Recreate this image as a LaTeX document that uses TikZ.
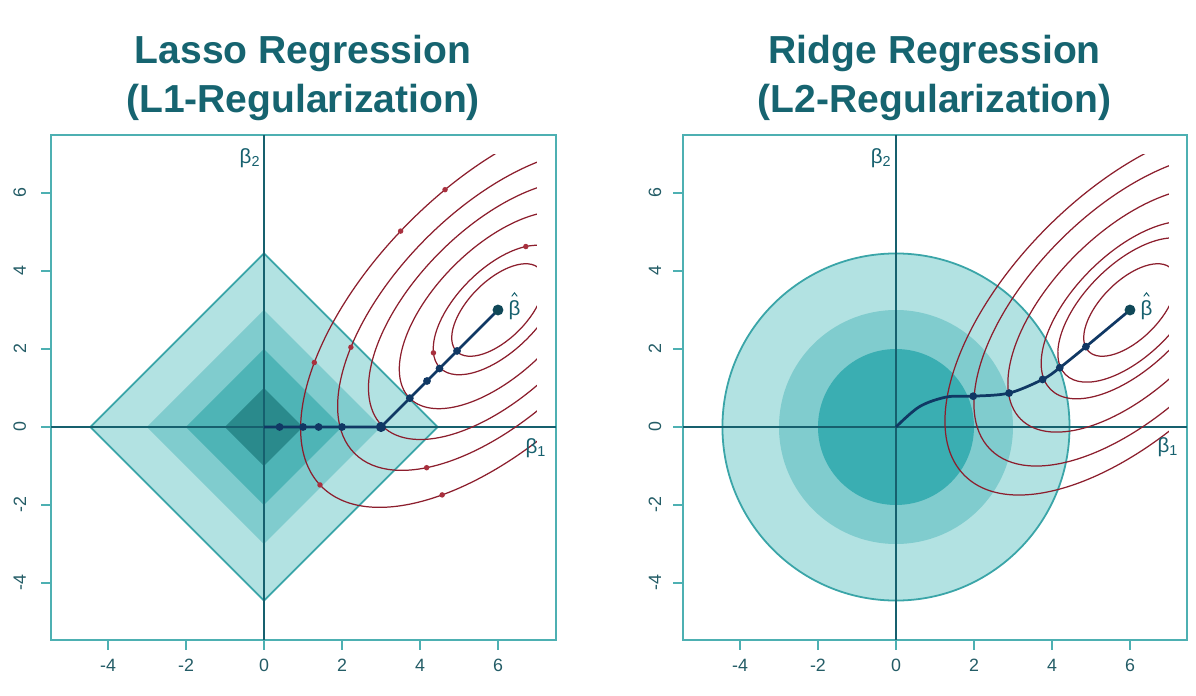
\documentclass[tikz,border=0pt]{standalone}
\usepackage{fontspec}
\setmainfont{Liberation Sans}
\usetikzlibrary{positioning}

\definecolor{titleclr}{RGB}{22,100,112}
\definecolor{tickclr}{RGB}{35,92,102}
\definecolor{frameclr}{RGB}{77,176,178}
\definecolor{axisclr}{RGB}{22,96,110}
\definecolor{regA}{RGB}{178,226,226}
\definecolor{regB}{RGB}{128,204,206}
\definecolor{regC}{RGB}{78,180,182}
\definecolor{regD}{RGB}{42,138,140}
\definecolor{circC}{RGB}{58,174,178}
\definecolor{regborder}{RGB}{58,165,168}
\definecolor{contclr}{RGB}{140,30,45}
\definecolor{rdotclr}{RGB}{168,48,62}
\definecolor{pathclr}{RGB}{16,56,100}
\definecolor{hatclr}{RGB}{16,72,88}

\begin{document}
\begin{tikzpicture}[x=1cm, y=1cm,
    every node/.style={font=\fontsize{13}{15}\selectfont, text=tickclr},
    title/.style={font=\fontsize{28.5}{34}\bfseries, text=titleclr, anchor=base},
    frame/.style={draw=frameclr, line width=1.4pt},
    axis/.style={draw=axisclr, line width=1.1pt},
    tick/.style={draw=frameclr, line width=1.2pt},
    contour/.style={draw=contclr, line width=0.9pt},
    reddot/.style={circle, fill=rdotclr, inner sep=0pt, minimum size=1.4mm},
    bdot/.style={circle, fill=pathclr, inner sep=0pt, minimum size=2mm},
    bigdot/.style={circle, fill=pathclr, inner sep=0pt, minimum size=2.6mm},
    hatdot/.style={circle, fill=hatclr, inner sep=0pt, minimum size=2.8mm},
    coefpath/.style={draw=pathclr, line width=2pt, line join=round},
    hatmark/.style={draw=axisclr, line width=0.7pt, line join=miter},
    axlabel/.style={font=\fontsize{15}{17}\selectfont, text=axisclr}]
  \useasboundingbox[fill=white] (0,0) rectangle (30.667,17.846);

  % titles
  \node[title] (ltitleA) at (7.77,16.23) {Lasso Regression};
  \node[title] (ltitleB) at (7.77,14.95) {(L1-Regularization)};
  \node[title] (rtitleA) at (23.97,16.23) {Ridge Regression};
  \node[title] (rtitleB) at (23.97,14.95) {(L2-Regularization)};

  % ---- Lasso panel ----
  \begin{scope}[xshift=6.769cm, yshift=6.897cm]
    \filldraw[fill=regA, draw=regborder, line width=1.3pt]
      (-4.45,0) -- (0,4.45) -- (4.45,0) -- (0,-4.45) -- cycle;
    \fill[regB] (-3,0) -- (0,3) -- (3,0) -- (0,-3) -- cycle;
    \fill[regC] (-2,0) -- (0,2) -- (2,0) -- (0,-2) -- cycle;
    \fill[regD] (-1,0) -- (0,1) -- (1,0) -- (0,-1) -- cycle;
    \draw[frame] (-5.45,-5.45) rectangle (7.48,7.48);
    \draw[axis] (-5.45,0) -- (7.48,0) (0,-5.45) -- (0,7.48);
    \foreach \v in {-4,-2,0,2,4,6} {
      \draw[tick] (\v,-5.45) -- (\v,-5.72);
      \draw[tick] (-5.45,\v) -- (-5.72,\v);
      \node (lbx\v) at (\v,-6.1) {\v};
      \node[rotate=90] (lby\v) at (-6.26,\v) {\v};
    }
    % loss contours
    \begin{scope}
      \clip (-5.45,-5.45) rectangle (7,7);
      \foreach \b in {0.75,1.05,1.6,2.1,2.6,3.2}
        \draw[contour, rotate around={45:(6,3)}] (6,3) ellipse [x radius=2*\b, y radius=\b];
    \end{scope}
    \begin{scope}[shift={(6,3)}, rotate=45]
      \foreach \b/\t [count=\i] in {3.2/93,3.2/132,3.2/179,2.6/130,3.2/79,1.05/38,1.05/158,2.6/217,3.2/227}
        \node[reddot] (lr\i) at ({2*\b*cos(\t)},{\b*sin(\t)}) {};
    \end{scope}
    % lasso path
    \coordinate (lp0) at (6,3);
    \coordinate (lp1) at (4.95,1.95);
    \coordinate (lp2) at (4.5,1.5);
    \coordinate (lp3) at (4.18,1.18);
    \coordinate (lp4) at (3.74,0.74);
    \coordinate (lp5) at (3,0);
    \coordinate (lp6) at (2,0);
    \coordinate (lp7) at (1.4,0);
    \coordinate (lp8) at (1,0);
    \coordinate (lp9) at (0.4,0);
    \coordinate (lp10) at (0,0);
    \draw[coefpath] (lp0) -- (lp1) -- (lp2) -- (lp3) -- (lp4) -- (lp5) -- (lp6)
      -- (lp7) -- (lp8) -- (lp9) -- (lp10);
    \foreach \i in {1,2,3,4,6,7,8,9}
      \node[bdot] (ld\i) at (lp\i) {};
    \node[bigdot] (ld5) at (lp5) {};
    \node[hatdot] (lhat) at (lp0) {};
    \node[axlabel, right=0pt of lhat] (lhatlbl) {β};
    \draw[hatmark] ([xshift=-0.07cm, yshift=-0.02cm]lhatlbl.north) -- ++(0.07,0.09) -- ++(0.07,-0.09);
    \node[axlabel] (lb1) at (6.97,-0.54) {β\textsubscript{1}};
    \node[axlabel] (lb2) at (-0.36,6.9) {β\textsubscript{2}};
  \end{scope}

  % ---- Ridge panel ----
  \begin{scope}[xshift=22.974cm, yshift=6.897cm]
    \filldraw[fill=regA, draw=regborder, line width=1.3pt] (0,0) circle (4.45);
    \fill[regB] (0,0) circle (3);
    \fill[circC] (0,0) circle (2);
    \draw[frame] (-5.45,-5.45) rectangle (7.46,7.48);
    \draw[axis] (-5.45,0) -- (7.46,0) (0,-5.45) -- (0,7.48);
    \foreach \v in {-4,-2,0,2,4,6} {
      \draw[tick] (\v,-5.45) -- (\v,-5.72);
      \draw[tick] (-5.45,\v) -- (-5.72,\v);
      \node (rbx\v) at (\v,-6.1) {\v};
      \node[rotate=90] (rby\v) at (-6.18,\v) {\v};
    }
    % loss contours
    \begin{scope}
      \clip (-5.45,-5.45) rectangle (7,7);
      \foreach \b in {0.75,1.17,1.44,1.98,2.53,3.0}
        \draw[contour, rotate around={45:(6,3)}] (6,3) ellipse [x radius=2*\b, y radius=\b];
    \end{scope}
    % ridge path
    \coordinate (rp0) at (0,0);
    \coordinate (rpa) at (0.6,0.52);
    \coordinate (rpb) at (1.3,0.77);
    \coordinate (rp1) at (1.98,0.79);
    \coordinate (rp2) at (2.9,0.87);
    \coordinate (rp3) at (3.76,1.22);
    \coordinate (rp4) at (4.2,1.52);
    \coordinate (rp5) at (4.87,2.06);
    \coordinate (rp6) at (6,3);
    \draw[coefpath] plot[smooth, tension=0.55] coordinates
      {(rp0) (rpa) (rpb) (rp1) (rp2) (rp3) (rp4) (rp5) (rp6)};
    \foreach \i in {1,...,5}
      \node[bdot] (rd\i) at (rp\i) {};
    \node[hatdot] (rhat) at (rp6) {};
    \node[axlabel, right=0pt of rhat] (rhatlbl) {β};
    \draw[hatmark] ([xshift=-0.07cm, yshift=-0.02cm]rhatlbl.north) -- ++(0.07,0.09) -- ++(0.07,-0.09);
    \node[axlabel] (rb1) at (6.97,-0.51) {β\textsubscript{1}};
    \node[axlabel] (rb2) at (-0.38,6.9) {β\textsubscript{2}};
  \end{scope}
\end{tikzpicture}
\end{document}
